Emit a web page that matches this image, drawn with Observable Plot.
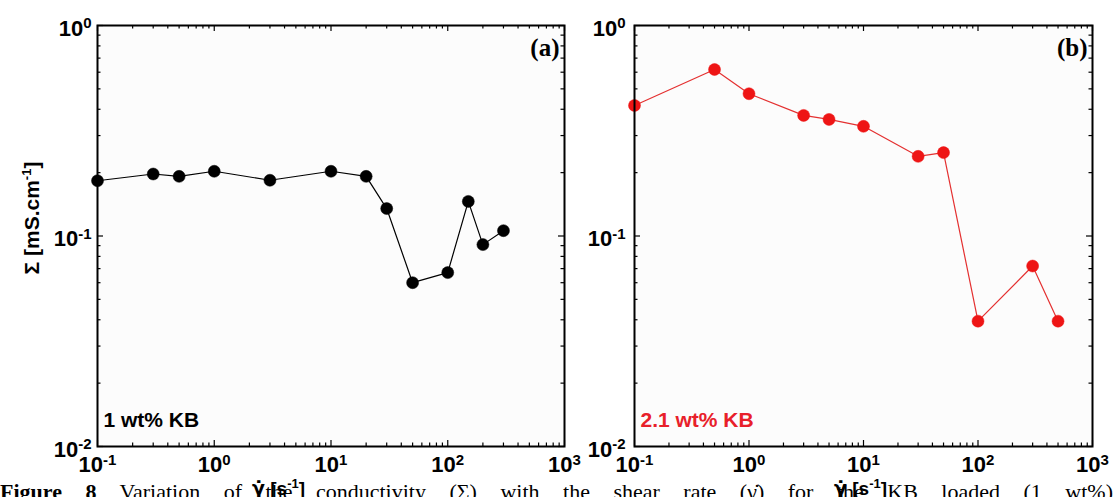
<!DOCTYPE html>
<html>
<head>
<meta charset="utf-8">
<script src="https://cdn.jsdelivr.net/npm/d3@7"></script>
<script src="https://cdn.jsdelivr.net/npm/@observablehq/plot@0.6"></script>
<style>
  html, body { margin: 0; padding: 0; background: #fff; overflow: hidden; }
  #wrap { position: relative; width: 1113px; height: 497px; overflow: hidden; }
  .panel { position: absolute; top: 0; }
  .lab { position: absolute; font-family: "Liberation Sans", Arial, sans-serif; font-weight: bold; font-size: 19px; line-height: 19px; color: #000; white-space: nowrap; }
  .lab sup { font-size: 13px; line-height: 0; }
  .lab .g { font-family: "DejaVu Sans", sans-serif; }
  #ylab { left: 31px; top: 218px; font-size: 21px; transform: translate(-50%, -50%) rotate(-90deg); }
  #caption { position: absolute; left: 0; top: 481px; width: 1113px; font-family: "Liberation Serif", "Times New Roman", serif; font-size: 22px; line-height: 22px; color: #000; text-align: justify; text-align-last: justify; }
</style>
</head>
<body>
<div id="wrap">
  <div id="caption"><b>Figure 8</b> Variation of the conductivity (Σ) with the shear rate (γ̇) for the KB loaded (1 wt%)</div>
  <div id="pa" class="panel" style="left:0px"></div>
  <div id="pb" class="panel" style="left:540px"></div>
  <div id="ylab" class="lab">Σ [mS.cm<sup>-1</sup>]</div>
  <div class="lab" style="left:252px; top:479px;"><span class="g">γ̇</span> [s<sup>-1</sup>]</div>
  <div class="lab" style="left:834px; top:479px;"><span class="g">γ̇</span> [s<sup>-1</sup>]</div>
</div>
<script>
// ---- data ----
const rateA  = [0.1, 0.3, 0.5, 1, 3, 10, 20, 30, 50, 100, 150, 200, 300];
const sigmaA = [0.183, 0.197, 0.192, 0.203, 0.184, 0.203, 0.192, 0.135, 0.060, 0.067, 0.146, 0.091, 0.106];
const rateB  = [0.1, 0.5, 1, 3, 5, 10, 30, 50, 100, 300, 500];
const sigmaB = [0.417, 0.618, 0.474, 0.374, 0.358, 0.332, 0.239, 0.249, 0.0394, 0.072, 0.0394];
const xTicks = [0.1, 1, 10, 100, 1000];
const xTickLabels = ["10^-1", "10^0", "10^1", "10^2", "10^3"];
const yTicks = [0.01, 0.1, 1];
const yTickLabels = ["10^-2", "10^-1", "10^0"];
const panelTags = ["(a)", "(b)"];
const seriesNames = ["1 wt% KB", "2.1 wt% KB"];

const xMinor = d3.scaleLog().domain([0.1, 1000]).ticks().filter(v => !xTicks.some(t => Math.abs(t - v) / t < 1e-6));
const yMinor = d3.scaleLog().domain([0.01, 1]).ticks().filter(v => !yTicks.some(t => Math.abs(t - v) / t < 1e-6));

function makePanel({rates, sigmas, color, lineColor, textColor, tag, name, width, ml, mr, yPad}) {
  const mt = 25, mb = 51, height = 497;
  const innerH = height - mt - mb;
  const innerW = width - ml - mr;
  const data = rates.map((r, i) => ({r, s: sigmas[i]}));
  const maj = 6, min = 3.5, sw = 1.2;
  const svg = Plot.plot({
    width, height,
    marginLeft: ml, marginRight: mr, marginTop: mt, marginBottom: mb,
    style: {background: "transparent", overflow: "visible", fontFamily: "'Liberation Sans', Arial, sans-serif", fontSize: "22px", fontWeight: "bold", color: "#000"},
    x: {type: "log", domain: [0.1, 1000], label: null},
    y: {type: "log", domain: [0.01, 1], label: null},
    marks: [
      Plot.frame({fill: "#fcfcfc"}),
      // inward ticks: bottom, top
      Plot.tickX(xTicks, {x: d => d, insetTop: innerH - maj, stroke: "#000", strokeWidth: sw}),
      Plot.tickX(xMinor, {x: d => d, insetTop: innerH - min, stroke: "#000", strokeWidth: sw}),
      Plot.tickX(xTicks, {x: d => d, insetBottom: innerH - maj, stroke: "#000", strokeWidth: sw}),
      Plot.tickX(xMinor, {x: d => d, insetBottom: innerH - min, stroke: "#000", strokeWidth: sw}),
      // inward ticks: left, right
      Plot.tickY(yTicks, {y: d => d, insetRight: innerW - maj, stroke: "#000", strokeWidth: sw}),
      Plot.tickY(yMinor, {y: d => d, insetRight: innerW - min, stroke: "#000", strokeWidth: sw}),
      Plot.tickY(yTicks, {y: d => d, insetLeft: innerW - maj, stroke: "#000", strokeWidth: sw}),
      Plot.tickY(yMinor, {y: d => d, insetLeft: innerW - min, stroke: "#000", strokeWidth: sw}),
      Plot.axisX(xTicks, {anchor: "bottom", tickSize: 0, tickPadding: 10, label: null, fontSize: 22, fontWeight: "bold",
        tickFormat: d => xTickLabels[xTicks.indexOf(d)], fill: "#000"}),
      Plot.axisY(yTicks, {anchor: "left", tickSize: 0, tickPadding: yPad, label: null, fontSize: 22, fontWeight: "bold",
        tickFormat: d => yTickLabels[yTicks.indexOf(d)], fill: "#000", dy: 3}),
      Plot.line(data, {x: "r", y: "s", stroke: lineColor, strokeWidth: 1.2}),
      Plot.dot(data, {x: "r", y: "s", r: 6, fill: color, stroke: color, strokeWidth: 0.5}),
      Plot.text([tag], {text: d => d, frameAnchor: "top-right", lineAnchor: "middle", textAnchor: "end", dx: -5, dy: 22,
        fontFamily: "'Liberation Serif', 'Times New Roman', serif", fontSize: 25, fontWeight: "bold", fill: "#000"}),
      Plot.text([name], {text: d => d, frameAnchor: "bottom-left", lineAnchor: "middle", textAnchor: "start", dx: 6, dy: -26,
        fontSize: 21, fontWeight: "bold", fill: textColor}),
      Plot.frame({stroke: "#000", strokeWidth: 2})
    ]
  });
  // turn "10^e" tick labels into base + superscript
  d3.select(svg).selectAll('g[aria-label$="tick label"] text').each(function () {
    const s = this.textContent;
    if (!s.includes("^")) return;
    const [b, e] = s.split("^");
    const t = d3.select(this);
    t.text(null);
    t.append("tspan").text(b);
    t.append("tspan").attr("dy", "-0.5em").attr("font-size", "15px").text(e);
  });
  return svg;
}

document.getElementById("pa").appendChild(makePanel({
  rates: rateA, sigmas: sigmaA, color: "#000", lineColor: "#000", textColor: "#000",
  tag: panelTags[0], name: seriesNames[0], width: 580, ml: 97, mr: 16, yPad: 6
}));
document.getElementById("pb").appendChild(makePanel({
  rates: rateB, sigmas: sigmaB, color: "#ee1515", lineColor: "#e43030", textColor: "#e8202a",
  tag: panelTags[1], name: seriesNames[1], width: 573, ml: 94, mr: 21, yPad: 9
}));
</script>
</body>
</html>
